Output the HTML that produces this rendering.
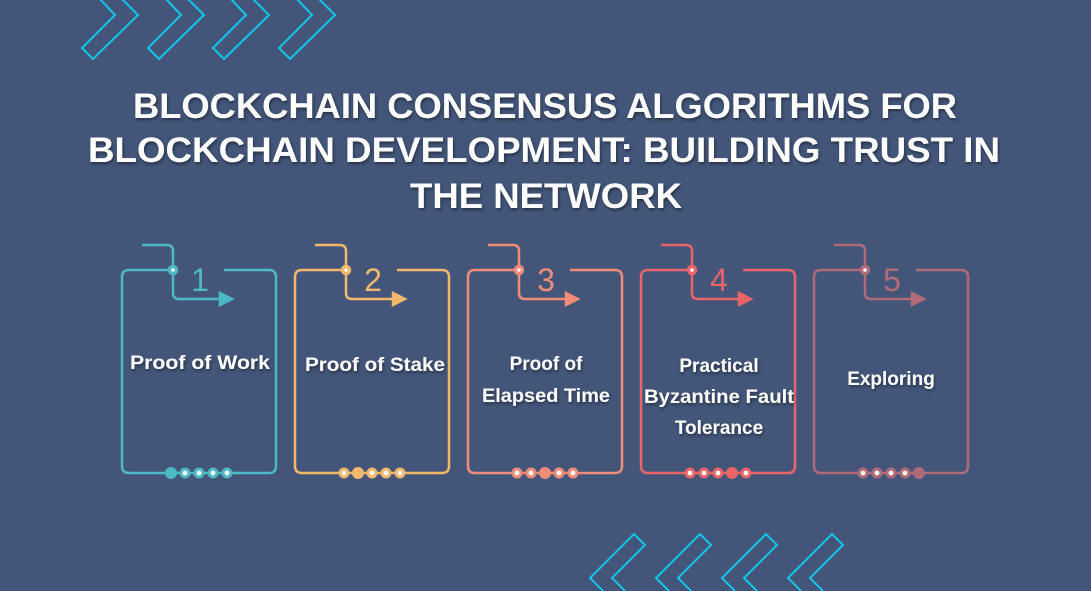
<!DOCTYPE html>
<html><head><meta charset="utf-8"><style>
html,body{margin:0;padding:0;background:#43567a;}
svg{display:block}
.t{font-family:"Liberation Sans",sans-serif;font-weight:bold;fill:#fff;text-anchor:middle}
.l{font-family:"Liberation Sans",sans-serif;font-weight:bold;fill:#fff;text-anchor:middle;font-size:19px}
.n{font-family:"Liberation Sans",sans-serif;font-size:32px;text-anchor:middle}
</style></head><body>
<svg width="1091" height="591" viewBox="0 0 1091 591" xmlns="http://www.w3.org/2000/svg">
<defs>
<filter id="sh" x="-10%" y="-30%" width="120%" height="160%"><feDropShadow dx="1" dy="2" stdDeviation="1.5" flood-color="#000" flood-opacity="0.45"/></filter>
<g id="chevR"><polyline points="99,-2 115,15 82,48 93,59 138,15 121,-2" fill="none" stroke="#12c6ee" stroke-width="2"/></g>
<g id="chevL"><polyline points="603,591 590,578 634,534 645,545 612,578 625,591" fill="none" stroke="#12c6ee" stroke-width="2"/></g>
</defs>
<rect width="1091" height="591" fill="#43567a"/>
<use href="#chevR"/><use href="#chevR" x="66"/><use href="#chevR" x="131"/><use href="#chevR" x="197"/>
<use href="#chevL"/><use href="#chevL" x="66"/><use href="#chevL" x="132"/><use href="#chevL" x="198"/>
<g filter="url(#sh)">
<text class="t" x="545" y="118" font-size="35" textLength="824" lengthAdjust="spacingAndGlyphs">BLOCKCHAIN CONSENSUS ALGORITHMS FOR</text>
<text class="t" x="544" y="162" font-size="35" textLength="912" lengthAdjust="spacingAndGlyphs">BLOCKCHAIN DEVELOPMENT: BUILDING TRUST IN</text>
<text class="t" x="546" y="208" font-size="35" textLength="272" lengthAdjust="spacingAndGlyphs">THE NETWORK</text>
</g>

<g transform="translate(122,270)" stroke="#4db8c6" fill="none" stroke-width="2.5">
<path d="M51,0 H7 Q0,0 0,7 V196 Q0,203 7,203 H147 Q154,203 154,196 V7 Q154,0 147,0 H102"/>
<path d="M20,-25 H45 Q51,-25 51,-19 V23 Q51,29 57,29 H100"/>
<polygon points="98,23 110,29 98,35" fill="#4db8c6"/>
<circle cx="51" cy="0" r="4" fill="#4db8c6"/>
<text class="n" x="78" y="21" fill="#4db8c6" stroke="none">1</text>
<g stroke="none" fill="#4db8c6"><circle cx="49" cy="203" r="6"/><circle cx="63" cy="203" r="5.5"/><circle cx="77" cy="203" r="5.5"/><circle cx="91" cy="203" r="5.5"/><circle cx="105" cy="203" r="5.5"/></g>
<g stroke="none" fill="#fff"><circle cx="51" cy="0" r="1.8"/><circle cx="63" cy="203" r="2.4"/><circle cx="77" cy="203" r="2.4"/><circle cx="91" cy="203" r="2.4"/><circle cx="105" cy="203" r="2.4"/></g>
</g>
<g transform="translate(295,270)" stroke="#f4b86c" fill="none" stroke-width="2.5">
<path d="M51,0 H7 Q0,0 0,7 V196 Q0,203 7,203 H147 Q154,203 154,196 V7 Q154,0 147,0 H102"/>
<path d="M20,-25 H45 Q51,-25 51,-19 V23 Q51,29 57,29 H100"/>
<polygon points="98,23 110,29 98,35" fill="#f4b86c"/>
<circle cx="51" cy="0" r="4" fill="#f4b86c"/>
<text class="n" x="78" y="21" fill="#f4b86c" stroke="none">2</text>
<g stroke="none" fill="#f4b86c"><circle cx="49" cy="203" r="5.5"/><circle cx="63" cy="203" r="6"/><circle cx="77" cy="203" r="5.5"/><circle cx="91" cy="203" r="5.5"/><circle cx="105" cy="203" r="5.5"/></g>
<g stroke="none" fill="#fff"><circle cx="51" cy="0" r="1.8"/><circle cx="49" cy="203" r="2.4"/><circle cx="77" cy="203" r="2.4"/><circle cx="91" cy="203" r="2.4"/><circle cx="105" cy="203" r="2.4"/></g>
</g>
<g transform="translate(468,270)" stroke="#f28c78" fill="none" stroke-width="2.5">
<path d="M51,0 H7 Q0,0 0,7 V196 Q0,203 7,203 H147 Q154,203 154,196 V7 Q154,0 147,0 H102"/>
<path d="M20,-25 H45 Q51,-25 51,-19 V23 Q51,29 57,29 H100"/>
<polygon points="98,23 110,29 98,35" fill="#f28c78"/>
<circle cx="51" cy="0" r="4" fill="#f28c78"/>
<text class="n" x="78" y="21" fill="#f28c78" stroke="none">3</text>
<g stroke="none" fill="#f28c78"><circle cx="49" cy="203" r="5.5"/><circle cx="63" cy="203" r="5.5"/><circle cx="77" cy="203" r="6"/><circle cx="91" cy="203" r="5.5"/><circle cx="105" cy="203" r="5.5"/></g>
<g stroke="none" fill="#fff"><circle cx="51" cy="0" r="1.8"/><circle cx="49" cy="203" r="2.4"/><circle cx="63" cy="203" r="2.4"/><circle cx="91" cy="203" r="2.4"/><circle cx="105" cy="203" r="2.4"/></g>
</g>
<g transform="translate(641,270)" stroke="#ea6468" fill="none" stroke-width="2.5">
<path d="M51,0 H7 Q0,0 0,7 V196 Q0,203 7,203 H147 Q154,203 154,196 V7 Q154,0 147,0 H102"/>
<path d="M20,-25 H45 Q51,-25 51,-19 V23 Q51,29 57,29 H100"/>
<polygon points="98,23 110,29 98,35" fill="#ea6468"/>
<circle cx="51" cy="0" r="4" fill="#ea6468"/>
<text class="n" x="78" y="21" fill="#ea6468" stroke="none">4</text>
<g stroke="none" fill="#ea6468"><circle cx="49" cy="203" r="5.5"/><circle cx="63" cy="203" r="5.5"/><circle cx="77" cy="203" r="5.5"/><circle cx="91" cy="203" r="6"/><circle cx="105" cy="203" r="5.5"/></g>
<g stroke="none" fill="#fff"><circle cx="51" cy="0" r="1.8"/><circle cx="49" cy="203" r="2.4"/><circle cx="63" cy="203" r="2.4"/><circle cx="77" cy="203" r="2.4"/><circle cx="105" cy="203" r="2.4"/></g>
</g>
<g transform="translate(814,270)" stroke="#b06a78" fill="none" stroke-width="2.5">
<path d="M51,0 H7 Q0,0 0,7 V196 Q0,203 7,203 H147 Q154,203 154,196 V7 Q154,0 147,0 H102"/>
<path d="M20,-25 H45 Q51,-25 51,-19 V23 Q51,29 57,29 H100"/>
<polygon points="98,23 110,29 98,35" fill="#b06a78"/>
<circle cx="51" cy="0" r="4" fill="#b06a78"/>
<text class="n" x="78" y="21" fill="#b06a78" stroke="none">5</text>
<g stroke="none" fill="#b06a78"><circle cx="49" cy="203" r="5.5"/><circle cx="63" cy="203" r="5.5"/><circle cx="77" cy="203" r="5.5"/><circle cx="91" cy="203" r="5.5"/><circle cx="105" cy="203" r="6"/></g>
<g stroke="none" fill="#fff"><circle cx="51" cy="0" r="1.8"/><circle cx="49" cy="203" r="2.4"/><circle cx="63" cy="203" r="2.4"/><circle cx="77" cy="203" r="2.4"/><circle cx="91" cy="203" r="2.4"/></g>
</g>

<g filter="url(#sh)">
<text class="l" x="200" y="369" textLength="140" lengthAdjust="spacingAndGlyphs">Proof of Work</text>
<text class="l" x="375" y="371" textLength="140" lengthAdjust="spacingAndGlyphs">Proof of Stake</text>
<text class="l" x="546" y="370">Proof of</text>
<text class="l" x="546" y="402" textLength="128" lengthAdjust="spacingAndGlyphs">Elapsed Time</text>
<text class="l" x="719" y="372">Practical</text>
<text class="l" x="719" y="403" textLength="150" lengthAdjust="spacingAndGlyphs">Byzantine Fault</text>
<text class="l" x="719" y="434">Tolerance</text>
<text class="l" x="891" y="385">Exploring</text>
</g>
</svg>
</body></html>
